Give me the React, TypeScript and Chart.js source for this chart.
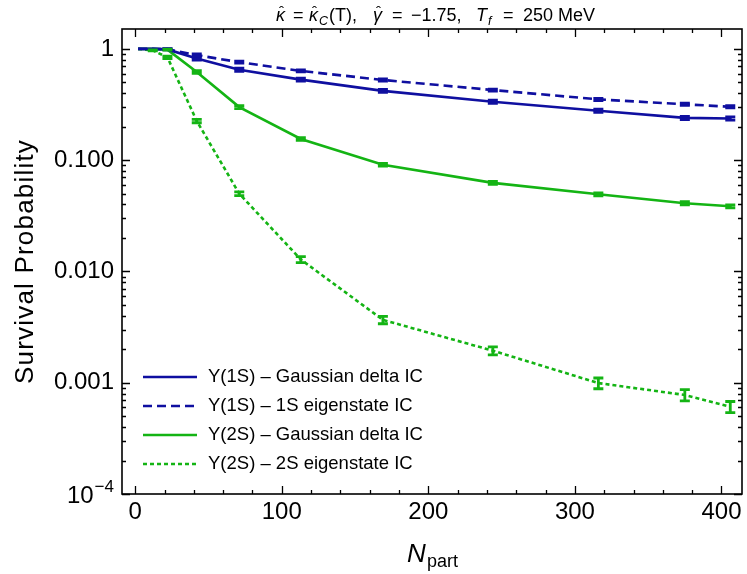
import React, { useEffect, useRef } from 'react';
import { Chart, registerables } from 'chart.js';

Chart.register(...registerables);

// ---------- data ----------
const npart = [2, 12, 22, 42, 71, 113, 169, 244, 316, 375, 406];

const y1sGauss = [1, 1, 0.99, 0.82, 0.65, 0.53, 0.42, 0.335, 0.278, 0.24, 0.237];
const y1sGaussErr = [0, 0, 0.01, 0.025, 0.02, 0.016, 0.013, 0.011, 0.009, 0.008, 0.008];

const y1sEigen = [1, 1, 0.995, 0.88, 0.76, 0.634, 0.526, 0.427, 0.352, 0.318, 0.302];
const y1sEigenErr = [0, 0, 0.008, 0.02, 0.016, 0.013, 0.011, 0.009, 0.008, 0.007, 0.007];

const y2sGauss = [1, 1, 0.985, 0.62, 0.3, 0.155, 0.091, 0.0625, 0.0494, 0.041, 0.0385];
const y2sGaussErr = [0, 0, 0.01, 0.018, 0.009, 0.0045, 0.0027, 0.0019, 0.0015, 0.0013, 0.0012];

const y2sEigen = [1, 0.97, 0.84, 0.225, 0.05, 0.0128, 0.00367, 0.00194, 0.000993, 0.000776, 0.000608];
const y2sEigenErr = [0, 0.01, 0.02, 0.008, 0.0019, 0.0008, 0.00028, 0.00016, 0.00011, 0.00009, 0.00007];

const seriesLabels = [
  'Υ(1S) – Gaussian delta IC',
  'Υ(1S) – 1S eigenstate IC',
  'Υ(2S) – Gaussian delta IC',
  'Υ(2S) – 2S eigenstate IC',
];

const xTickValues = [0, 100, 200, 300, 400];
const xTickLabels = ['0', '100', '200', '300', '400'];
const yTickValues = [1, 0.1, 0.01, 0.001, 0.0001];
const yTickLabels = ['1', '0.100', '0.010', '0.001', '10^-4'];

const yAxisTitle = 'Survival Probability';

const BLUE = '#0f0fa0';
const GREEN = '#14b414';
const FONT = '"Liberation Sans", Arial, sans-serif';

const errs = [y1sGaussErr, y1sEigenErr, y2sGaussErr, y2sEigenErr];

const decorPlugin = {
  id: 'decor',
  afterDatasetsDraw(chart: any) {
    const ctx = chart.ctx as CanvasRenderingContext2D;
    const xs = chart.scales.x;
    const ys = chart.scales.y;
    const ca = chart.chartArea;
    ctx.save();
    ctx.beginPath();
    ctx.rect(ca.left, ca.top, ca.right - ca.left, ca.bottom - ca.top);
    ctx.clip();
    chart.data.datasets.forEach((ds: any, di: number) => {
      const e = errs[di];
      ctx.strokeStyle = ds.borderColor;
      ctx.lineWidth = 2.8;
      ctx.setLineDash([]);
      ds.data.forEach((p: any, i: number) => {
        if (!e[i]) return;
        const px = xs.getPixelForValue(p.x);
        const yTop = ys.getPixelForValue(p.y + e[i]);
        const yBot = ys.getPixelForValue(p.y - e[i]);
        ctx.beginPath();
        ctx.moveTo(px, yTop);
        ctx.lineTo(px, yBot);
        ctx.moveTo(px - 5, yTop);
        ctx.lineTo(px + 5, yTop);
        ctx.moveTo(px - 5, yBot);
        ctx.lineTo(px + 5, yBot);
        ctx.stroke();
      });
    });
    ctx.restore();
  },
  afterDraw(chart: any) {
    const ctx = chart.ctx as CanvasRenderingContext2D;
    const xs = chart.scales.x;
    const ys = chart.scales.y;
    const ca = chart.chartArea;
    ctx.save();
    ctx.setLineDash([]);
    ctx.strokeStyle = '#000';
    ctx.fillStyle = '#000';
    // frame
    ctx.lineWidth = 1.6;
    ctx.strokeRect(ca.left, ca.top, ca.right - ca.left, ca.bottom - ca.top);
    // x ticks
    ctx.lineWidth = 1.3;
    for (let v = 0; v <= 400; v += 20) {
      const px = Math.round(xs.getPixelForValue(v)) + 0.5;
      const len = v % 100 === 0 ? 8 : 4;
      ctx.beginPath();
      ctx.moveTo(px, ca.bottom);
      ctx.lineTo(px, ca.bottom - len);
      ctx.moveTo(px, ca.top);
      ctx.lineTo(px, ca.top + len);
      ctx.stroke();
    }
    // y ticks
    for (let d = -4; d <= 0; d++) {
      for (let k = 1; k <= 9; k++) {
        const v = k * Math.pow(10, d);
        if (v > ys.max || v < ys.min) continue;
        const py = Math.round(ys.getPixelForValue(v)) + 0.5;
        const len = k === 1 ? 8 : 4;
        ctx.beginPath();
        ctx.moveTo(ca.left, py);
        ctx.lineTo(ca.left + len, py);
        ctx.moveTo(ca.right, py);
        ctx.lineTo(ca.right - len, py);
        ctx.stroke();
      }
    }
    // x tick labels
    ctx.font = `24px ${FONT}`;
    ctx.textAlign = 'center';
    ctx.textBaseline = 'top';
    xTickValues.forEach((v, i) => {
      ctx.fillText(xTickLabels[i], xs.getPixelForValue(v), ca.bottom + 6);
    });
    // y tick labels
    ctx.textAlign = 'right';
    ctx.textBaseline = 'middle';
    yTickValues.forEach((v, i) => {
      const py = ys.getPixelForValue(v);
      const lab = yTickLabels[i];
      if (lab.includes('^')) {
        const [base, exp] = lab.split('^');
        ctx.font = `17px ${FONT}`;
        const expTxt = exp.replace('-', '−');
        const ew = ctx.measureText(expTxt).width;
        ctx.fillText(expTxt, ca.left - 8, py - 7);
        ctx.font = `24px ${FONT}`;
        ctx.fillText(base, ca.left - 8 - ew - 1, py + 2);
      } else {
        ctx.font = `24px ${FONT}`;
        ctx.fillText(lab, ca.left - 8, py);
      }
    });
    // y axis title
    ctx.save();
    ctx.translate(26, (ca.top + ca.bottom) / 2);
    ctx.rotate(-Math.PI / 2);
    ctx.textAlign = 'center';
    ctx.textBaseline = 'middle';
    ctx.font = `26px ${FONT}`;
    (ctx as any).letterSpacing = '1.2px';
    ctx.fillText(yAxisTitle, 0, 0);
    (ctx as any).letterSpacing = '0px';
    ctx.restore();
    // x axis title N_part
    {
      const cx = (ca.left + ca.right) / 2;
      ctx.textBaseline = 'alphabetic';
      ctx.textAlign = 'left';
      ctx.font = `italic 26px ${FONT}`;
      const wN = ctx.measureText('N').width;
      ctx.font = `18px ${FONT}`;
      const wP = ctx.measureText('part').width;
      const x0 = cx - (wN + wP) / 2;
      const base = 562;
      ctx.font = `italic 26px ${FONT}`;
      ctx.fillText('N', x0, base);
      ctx.font = `18px ${FONT}`;
      ctx.fillText('part', x0 + wN + 1, base + 5);
    }
    // title
    {
      type Piece = { t: string; font: string; x: number; dy: number; hat?: boolean };
      const f = `18px ${FONT}`;
      const fi = `italic 18px ${FONT}`;
      const fs = `italic 12.5px ${FONT}`;
      const pieces: Piece[] = [
        { t: 'κ', font: fi, x: 276, dy: 0, hat: true },
        { t: '=', font: f, x: 293, dy: 0 },
        { t: 'κ', font: fi, x: 309, dy: 0, hat: true },
        { t: 'C', font: fs, x: 319, dy: 4 },
        { t: '(T),', font: f, x: 329, dy: 0 },
        { t: 'γ', font: fi, x: 373, dy: 0, hat: true },
        { t: '=', font: f, x: 392, dy: 0 },
        { t: '−1.75,', font: f, x: 411, dy: 0 },
        { t: 'T', font: fi, x: 476, dy: 0 },
        { t: 'f', font: fs, x: 488, dy: 4 },
        { t: '=', font: f, x: 503, dy: 0 },
        { t: '250 MeV', font: f, x: 523, dy: 0 },
      ];
      const base = 21;
      ctx.textAlign = 'left';
      ctx.textBaseline = 'alphabetic';
      pieces.forEach((p) => {
        ctx.font = p.font;
        const w = ctx.measureText(p.t).width;
        ctx.fillText(p.t, p.x, base + p.dy);
        if (p.hat) {
          ctx.font = `15px ${FONT}`;
          ctx.textAlign = 'center';
          ctx.fillText('ˆ', p.x + w / 2 + 1, base - 4);
          ctx.textAlign = 'left';
        }
      });
    }
    // legend
    {
      const lx0 = 143;
      const lx1 = 197;
      const rows = [377, 406, 435, 464];
      chart.data.datasets.forEach((ds: any, i: number) => {
        const y = rows[i];
        ctx.strokeStyle = ds.borderColor;
        ctx.lineWidth = ds.borderWidth;
        ctx.setLineDash(ds.borderDash || []);
        ctx.beginPath();
        ctx.moveTo(lx0, y);
        ctx.lineTo(lx1, y);
        ctx.stroke();
        ctx.setLineDash([]);
        ctx.fillStyle = '#000';
        ctx.font = `18.5px ${FONT}`;
        ctx.textAlign = 'left';
        ctx.textBaseline = 'middle';
        ctx.fillText(seriesLabels[i], 208, y);
      });
    }
    ctx.restore();
  },
};

export default function App() {
  const ref = useRef<HTMLCanvasElement>(null);
  useEffect(() => {
    if (!ref.current) return;
    const mk = (vals: number[]) => npart.map((x, i) => ({ x, y: vals[i] }));
    const chart = new Chart(ref.current, {
      type: 'line',
      data: {
        datasets: [
          { label: seriesLabels[0], data: mk(y1sGauss), borderColor: BLUE, borderWidth: 2.6, pointRadius: 0, fill: false },
          { label: seriesLabels[1], data: mk(y1sEigen), borderColor: BLUE, borderWidth: 2.6, borderDash: [9, 5], pointRadius: 0, fill: false },
          { label: seriesLabels[2], data: mk(y2sGauss), borderColor: GREEN, borderWidth: 2.6, pointRadius: 0, fill: false },
          { label: seriesLabels[3], data: mk(y2sEigen), borderColor: GREEN, borderWidth: 2.6, borderDash: [4, 3], pointRadius: 0, fill: false },
        ],
      },
      options: {
        animation: false,
        responsive: false,
        layout: { padding: { left: 122, top: 29, right: 5, bottom: 80 } },
        scales: {
          x: { type: 'linear', min: -9, max: 414, display: false },
          y: { type: 'logarithmic', min: 0.0001, max: 1.51, display: false },
        },
        plugins: { legend: { display: false }, title: { display: false }, tooltip: { enabled: false } },
      },
      plugins: [decorPlugin],
    });
    return () => chart.destroy();
  }, []);
  return (
    <div style={{ position: 'absolute', left: 0, top: 0, width: 747, height: 574, background: '#fff' }}>
      <canvas ref={ref} width={747} height={574} style={{ width: 747, height: 574, display: 'block' }} />
    </div>
  );
}
